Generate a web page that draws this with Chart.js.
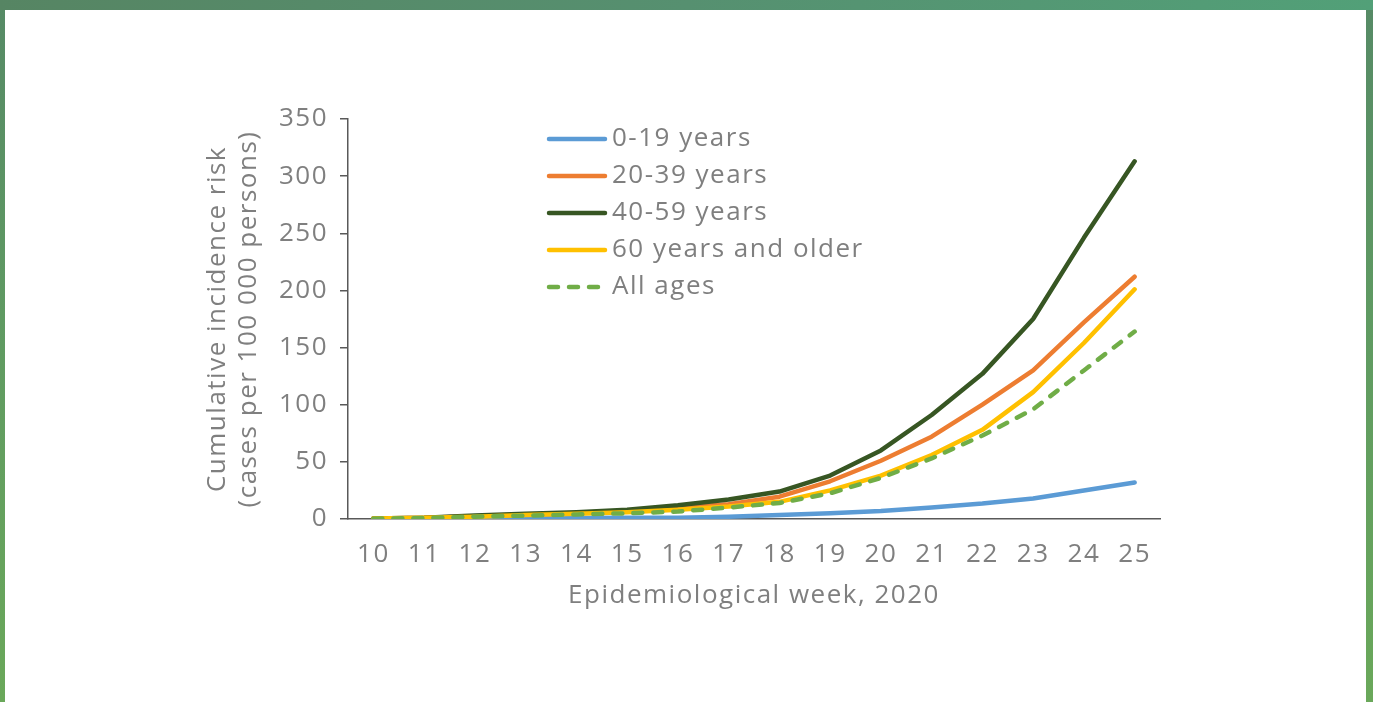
<!DOCTYPE html>
<html>
<head>
<meta charset="utf-8">
<script src="https://cdn.jsdelivr.net/npm/chart.js@4.4.1/dist/chart.umd.min.js"></script>
<style>
  html, body { margin: 0; padding: 0; }
  body {
    width: 1373px; height: 702px; overflow: hidden; position: relative;
    background: linear-gradient(to bottom, #568a66 0%, #5f9a62 45%, #6aa85a 100%);
  }
  #topbar {
    position: absolute; left: 0; top: 0; width: 1373px; height: 10px;
    background: linear-gradient(to right, #568563, #569070 50%, #52a078);
  }
  #card {
    position: absolute; left: 5px; top: 10px; width: 1361px; height: 692px;
    background: #ffffff;
  }
  #myChart { position: absolute; left: 0; top: 0; }
</style>
</head>
<body>
<div id="topbar"></div>
<div id="card"></div>
<canvas id="myChart" width="1373" height="702"></canvas>
<script>
// data
const weeks = ['10','11','12','13','14','15','16','17','18','19','20','21','22','23','24','25'];
const ages0to19  = [0.1, 0.2, 0.3, 0.5, 0.8, 1, 1, 2, 3.5, 5, 7, 10, 13.5, 18, 25, 32];
const ages20to39 = [0.5, 1, 2.5, 4, 5, 7, 10, 13, 19.5, 33, 51, 72, 100, 130, 172, 212];
const ages40to59 = [0.5, 1, 3, 4.5, 6, 8, 12, 17, 24, 38, 60, 91, 127, 175, 246, 313];
const ages60plus = [0.5, 1, 2, 3.5, 4.5, 6, 8, 11, 15, 25, 38, 56, 78, 111, 154, 201];
const allAges    = [0.3, 0.8, 2, 3, 4, 5, 6.5, 10, 14, 22.5, 36, 53, 73, 96, 130, 164];
const seriesNames = ['0-19 years', '20-39 years', '40-59 years', '60 years and older', 'All ages'];
const yTicks = [0, 50, 100, 150, 200, 250, 300, 350];

const FONT = '"Open Sans", "DejaVu Sans", sans-serif';
const GREY = '#7f7f7f';

// wider lettering, closer to the original typeface
const spacing = {
    id: 'spacing',
    beforeDraw(chart) { chart.ctx.letterSpacing = '1.5px'; }
};

// legend drawn inside the plot, one row per series
const legendInside = {
    id: 'legendInside',
    afterDraw(chart) {
        const c = chart.ctx;
        c.save();
        chart.data.datasets.forEach((ds, i) => {
            const y = 139 + i * 37;
            c.beginPath();
            c.lineWidth = ds.borderWidth;
            c.strokeStyle = ds.borderColor;
            c.lineCap = 'round';
            c.setLineDash(ds.borderDash || []);
            c.moveTo(549, y);
            c.lineTo(605, y);
            c.stroke();
            c.setLineDash([]);
            c.fillStyle = GREY;
            c.font = '26px ' + FONT;
            c.textBaseline = 'middle';
            c.textAlign = 'left';
            c.fillText(ds.label, 612, y);
        });
        c.restore();
    }
};

function line(label, data, color, order, dash) {
    return {
        label: label,
        data: data,
        borderColor: color,
        backgroundColor: color,
        borderWidth: 4.5,
        borderDash: dash || [],
        borderCapStyle: 'round',
        borderJoinStyle: 'round',
        pointRadius: 0,
        tension: 0,
        fill: false,
        order: order
    };
}

const ctx = document.getElementById('myChart');
var myChart = new Chart(ctx, {
    type: 'line',
    data: {
        labels: weeks,
        datasets: [
            line(seriesNames[0], ages0to19, '#5b9bd5', 4),
            line(seriesNames[1], ages20to39, '#ed7d31', 3),
            line(seriesNames[2], ages40to59, '#375623', 2),
            line(seriesNames[3], ages60plus, '#ffc000', 1),
            line(seriesNames[4], allAges, '#70ad47', 0, [9, 11])
        ]
    },
    options: {
        responsive: false,
        animation: false,
        layout: { padding: { left: 200, right: 213, top: 119, bottom: 83 } },
        plugins: {
            legend: { display: false },
            tooltip: { enabled: false }
        },
        scales: {
            x: {
                offset: true,
                grid: { display: true, drawOnChartArea: false, drawTicks: false, offset: true },
                border: { color: '#595959', width: 1.5 },
                ticks: { color: GREY, font: { family: FONT, size: 26 }, padding: 20, maxRotation: 0, autoSkip: false },
                title: {
                    display: true, text: 'Epidemiological week, 2020', color: GREY,
                    font: { family: FONT, size: 26 }, padding: { top: 0, bottom: 8 }
                },
                afterFit: (scale) => { scale.height = 100; }
            },
            y: {
                min: 0,
                max: 350,
                afterBuildTicks: (scale) => { scale.ticks = yTicks.map(v => ({ value: v })); },
                grid: { drawOnChartArea: false, drawTicks: true, tickLength: 8, color: '#595959', lineWidth: 1.5 },
                border: { color: '#595959', width: 1.5 },
                ticks: { color: GREY, font: { family: FONT, size: 26 }, padding: 12 },
                title: {
                    display: true,
                    text: ['Cumulative incidence risk', '(cases per 100 000 persons)'],
                    color: GREY, font: { family: FONT, size: 26 }, padding: { top: 2, bottom: 0 }
                },
                afterFit: (scale) => { scale.width = 148; }
            }
        }
    },
    plugins: [spacing, legendInside]
});
</script>
</body>
</html>
